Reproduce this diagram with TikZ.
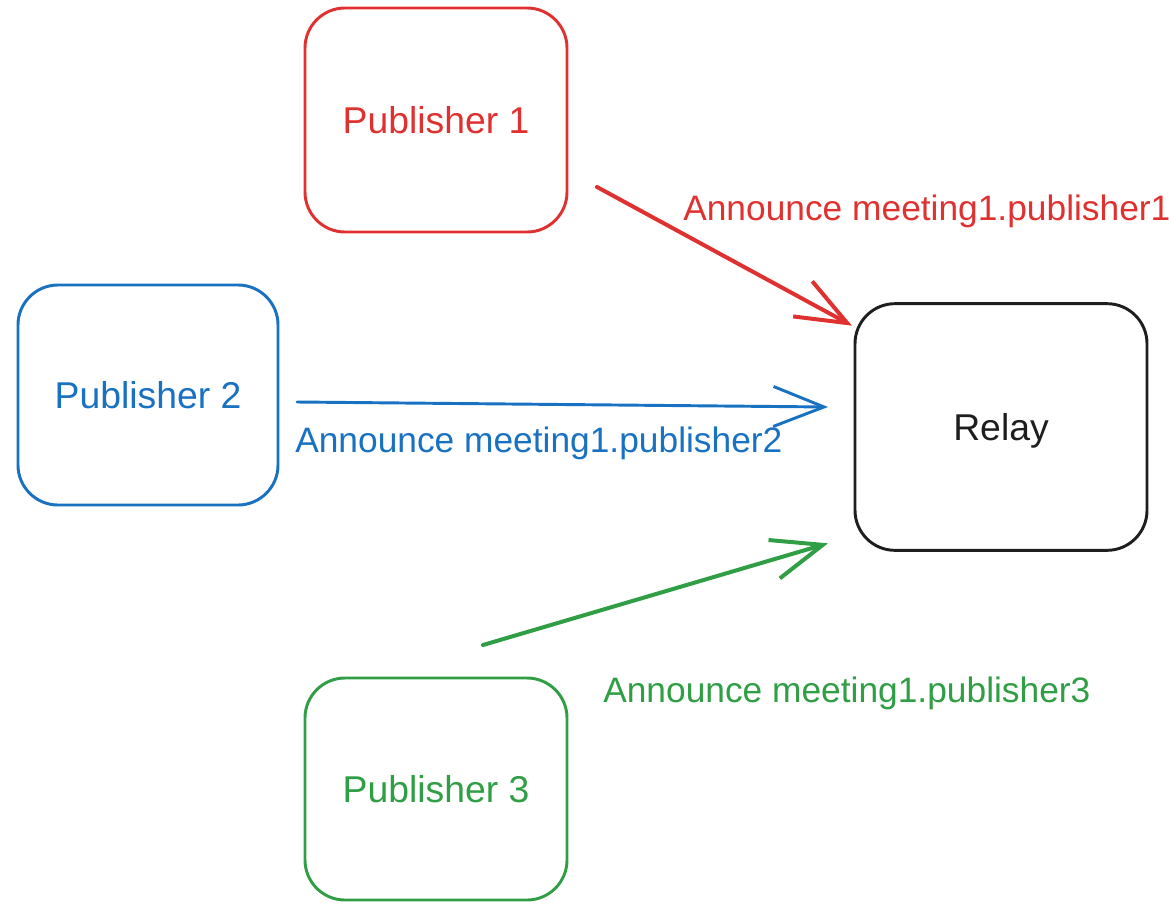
\documentclass[tikz,border=0pt]{standalone}
\usepackage{fontspec}
\setmainfont{Liberation Sans}
\usetikzlibrary{arrows.meta,calc}
\definecolor{exred}{HTML}{E03131}
\definecolor{exblue}{HTML}{1971C2}
\definecolor{exgreen}{HTML}{2F9E44}
\definecolor{exblack}{HTML}{1E1E1E}
\begin{document}
\begin{tikzpicture}[x=0.75pt,y=-0.75pt,
  box/.style={draw, line width=2.2pt, rounded corners=30pt, inner sep=0pt, outer sep=0pt,
    align=center, font=\fontsize{28pt}{32pt}\selectfont, text height=20pt, text depth=0pt},
  lbl/.style={inner sep=0pt, anchor=base west, font=\fontsize{26.5pt}{30pt}\selectfont},
  conn/.style={-{Straight Barb[length=38pt,width=30pt]}, line cap=round, line join=round}
]
\useasboundingbox (0,0) rectangle (1169,903);
\node[box, draw=exred, text=exred, minimum width=196.5pt, minimum height=168pt] (p1) at (436,120) {Publisher 1};
\node[box, draw=exblue, text=exblue, minimum width=195pt, minimum height=165pt] (p2) at (148,395) {Publisher 2};
\node[box, draw=exgreen, text=exgreen, minimum width=196.5pt, minimum height=166.5pt] (p3) at (436,789) {Publisher 3};
\node[box, draw=exblack, text=exblack, minimum width=219pt, minimum height=185pt] (relay) at (1001,427) {Relay};

\draw[conn, exred, line width=3pt] ($(p1.east)+(30,67)$) -- ($(relay.north west)+(-3,22)$);
\draw[conn, exblue, line width=2.2pt] ($(p2.east)+(19,7)$) -- ($(relay.west)+(-27,-20)$);
\draw[conn, exgreen, line width=3pt] ($(p3.north)+(47,-33)$) -- ($(relay.south west)+(-27,-7)$);

\node[lbl, text=exred] (l1) at (683,220) {Announce meeting1.publisher1};
\node[lbl, text=exblue] (l2) at (295,452) {Announce meeting1.publisher2};
\node[lbl, text=exgreen] (l3) at (603,702) {Announce meeting1.publisher3};
\end{tikzpicture}
\end{document}
